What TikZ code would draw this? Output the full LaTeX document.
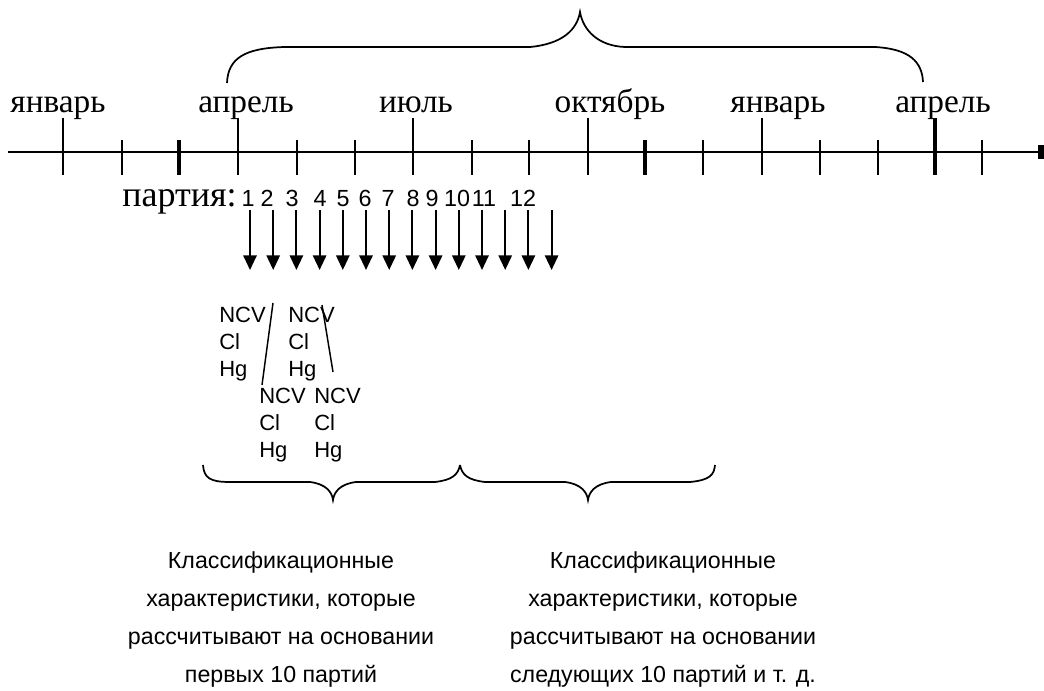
\documentclass[tikz,border=0pt]{standalone}
\usepackage{fontspec}
\setmainfont{Liberation Serif}
\setsansfont{Liberation Sans}
\usetikzlibrary{arrows.meta}

\begin{document}
\begin{tikzpicture}[
    x=0.75pt, y=-0.75pt,
    month/.style={font=\fontsize{25}{29}\selectfont, anchor=base, inner sep=0pt},
    longtick/.style={line width=1.5pt},
    thicktick/.style={line width=2.6pt},
    num/.style={font=\sffamily\fontsize{17.5}{21}\selectfont, anchor=base, inner sep=0pt},
    batch/.style={line width=1.5pt, -{Triangle[length=11pt, width=10pt]}},
    block/.style={font=\sffamily\fontsize{16.5}{20.2}\selectfont, align=left, anchor=north west, inner sep=0pt},
    link/.style={line width=1.1pt},
    curly/.style={line width=1.3pt},
    note/.style={font=\sffamily\fontsize{17.4}{28.5}\selectfont, align=center, anchor=north, inner sep=0pt}
]
\useasboundingbox (0,0) rectangle (1044,691);

% Time axis
\coordinate (start) at (8,152);
\coordinate (end) at (1044,152);
\draw[longtick, -{Rectangle[length=4.5pt, width=11pt]}] (start) -- (end);
\foreach \x in {63,238,413,588,762}
    \draw[longtick] (\x,118) -- (\x,175);
\draw[thicktick] (935,118) -- (935,175);
\foreach \x in {122,297,355,472,529,703,820,878,982}
    \draw[longtick] (\x,140) -- (\x,175);
\foreach \x in {179,645}
    \draw[thicktick] (\x,140) -- (\x,175);

% Months
\node[month] (jan1) at (58,113) {январь};
\node[month] (apr1) at (246,113) {апрель};
\node[month] (jul) at (416,113) {июль};
\node[month] (oct) at (610,113) {октябрь};
\node[month] (jan2) at (778,113) {январь};
\node[month] (apr2) at (943,113) {апрель};

% One year
\draw[curly] (227,83) .. controls (228,58) and (245,48) .. (285,47) -- (530,47)
    .. controls (562,44) and (577,30) .. (580,12)
    .. controls (583,30) and (598,46) .. (625,47) -- (875,47)
    .. controls (910,49) and (922,62) .. (923,82);

% Batches
\node[month, anchor=base west, font=\fontsize{27}{31}\selectfont] (party) at (122,207) {партия:};
\foreach \n/\x in {1/248,2/267,3/292,4/320,5/343,6/365,7/388,8/413,9/432,10/457,11/484,12/523}
    \node[num] (n\n) at (\x,207) {\n};
\foreach \i in {0,...,13} {
    \coordinate (top\i) at (250+23.2*\i,210);
    \coordinate (tip\i) at (250+23.2*\i,270);
    \draw[batch] (top\i) -- (tip\i);
}

% Measured values
\node[block] (b1) at (219,307) {NCV\\Cl\\Hg};
\node[block] (b2) at (288,307) {NCV\\Cl\\Hg};
\node[block] (b3) at (259,388) {NCV\\Cl\\Hg};
\node[block] (b4) at (314,388) {NCV\\Cl\\Hg};
\coordinate (l1a) at (273,303);
\coordinate (l1b) at (262,385);
\draw[link] (l1a) -- (l1b);
\coordinate (l2a) at (322,305);
\coordinate (l2b) at (333,372);
\draw[link] (l2a) -- (l2b);

% Groups of 10
\draw[curly] (203,465) .. controls (204,478) and (210,482) .. (230,482) -- (310,482)
    .. controls (326,484) and (332,492) .. (333,500)
    .. controls (334,492) and (340,484) .. (356,482) -- (435,482)
    .. controls (452,480) and (458,475) .. (460,465);
\draw[curly] (460,465) .. controls (462,475) and (468,480) .. (485,482) -- (565,482)
    .. controls (581,484) and (587,492) .. (588,500)
    .. controls (589,492) and (595,484) .. (611,482) -- (690,482)
    .. controls (710,480) and (714,475) .. (715,465);

\node[note] (first) at (281,551) {Классификационные\\характеристики, которые\\рассчитывают на основании\\первых 10 партий};
\node[note] (next) at (663,551) {Классификационные\\характеристики, которые\\рассчитывают на основании\\следующих 10 партий и т. д.};

\end{tikzpicture}
\end{document}
